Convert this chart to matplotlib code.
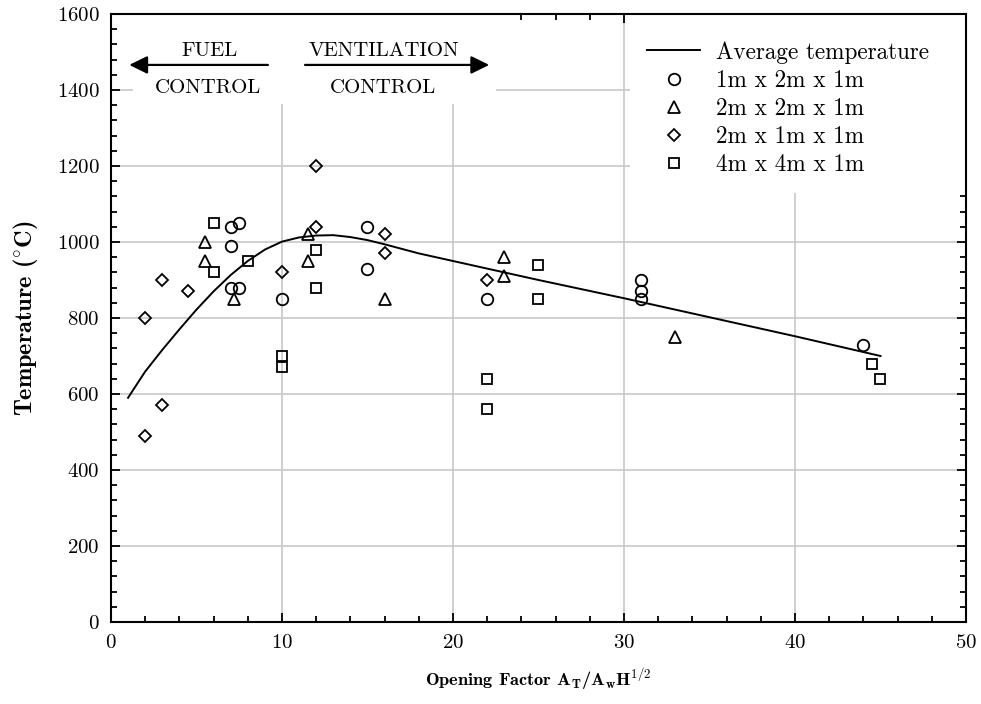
import matplotlib
matplotlib.use("Agg")
import matplotlib.pyplot as plt
from matplotlib.patches import Rectangle
from matplotlib.ticker import MultipleLocator

plt.rcParams["font.family"] = "cmr10"
plt.rcParams["mathtext.fontset"] = "cm"
plt.rcParams["axes.formatter.use_mathtext"] = True

# Average temperature curve
avg_x = [1, 2, 3, 4, 5, 6, 7, 8, 9, 10, 11, 12, 13, 14, 15, 16, 17, 18, 20,
         25, 30, 35, 40, 45]
avg_y = [590, 659, 716, 770, 822, 870, 913, 950, 980, 1001, 1012, 1017, 1018,
         1013, 1005, 994, 982, 970, 950, 900, 852, 802, 752, 700]

# Compartment 1m x 2m x 1m
c1_x = [7, 7.5, 7, 7, 7.5, 10, 15, 15, 22, 31, 31, 31, 44]
c1_y = [1040, 1050, 990, 880, 880, 850, 1040, 930, 850, 900, 870, 850, 730]

# Compartment 2m x 2m x 1m
c2_x = [5.5, 5.5, 7.2, 11.5, 11.5, 16, 23, 23, 33]
c2_y = [1000, 950, 850, 1020, 950, 850, 960, 910, 750]

# Compartment 2m x 1m x 1m
c3_x = [2, 3, 4.5, 3, 2, 10, 12, 12, 16, 16, 22]
c3_y = [800, 900, 870, 570, 490, 920, 1040, 1200, 1020, 970, 900]

# Compartment 4m x 4m x 1m
c4_x = [6, 6, 8, 10, 10, 12, 12, 25, 25, 22, 22, 44.5, 45]
c4_y = [1050, 920, 950, 700, 670, 980, 880, 940, 850, 640, 560, 680, 640]

labels = ["Average temperature", "1m x 2m x 1m", "2m x 2m x 1m",
          "2m x 1m x 1m", "4m x 4m x 1m"]

fig = plt.figure(figsize=(9.81, 7.04), dpi=100)
ax = fig.add_axes([0.1131, 0.1165, 0.8716, 0.8636])

ax.set_xlim(0, 50)
ax.set_ylim(0, 1600)
ax.xaxis.set_major_locator(MultipleLocator(10))
ax.xaxis.set_minor_locator(MultipleLocator(2))
ax.yaxis.set_major_locator(MultipleLocator(200))
ax.yaxis.set_minor_locator(MultipleLocator(40))

ax.set_axisbelow(True)
ax.grid(True, which="major", color="#c8c8c8", linewidth=1.2)

for s in ax.spines.values():
    s.set_linewidth(1.5)
ax.tick_params(which="both", direction="in", top=True, right=True, width=1.3,
               labelsize=15)
ax.tick_params(which="major", length=6.5)
ax.tick_params(which="minor", length=4)
ax.tick_params(axis="x", pad=9)
ax.tick_params(axis="y", pad=8)

# white panels behind the annotation and the key
ax.add_patch(Rectangle((1.29, 1363), 21.2, 237, facecolor="white",
                       edgecolor="none", zorder=1))
ax.add_patch(Rectangle((30.35, 1129), 19.65, 471, facecolor="white",
                       edgecolor="none", zorder=1))

mk = dict(linestyle="none", markerfacecolor="none", markeredgecolor="black",
          markeredgewidth=1.3, zorder=3)
line, = ax.plot(avg_x, avg_y, color="black", linewidth=1.4, zorder=2)
h1, = ax.plot(c1_x, c1_y, marker="o", markersize=8.3, **mk)
h2, = ax.plot(c2_x, c2_y, marker="^", markersize=9.0, **mk)
h3, = ax.plot(c3_x, c3_y, marker="D", markersize=6.2, **mk)
h4, = ax.plot(c4_x, c4_y, marker="s", markersize=7.2, **mk)

leg = ax.legend([line, h1, h2, h3, h4], labels, loc="upper left",
                bbox_to_anchor=(0.627, 0.9556), frameon=False, fontsize=16.7,
                handlelength=2.28, handletextpad=0.69, labelspacing=0.26,
                borderpad=0, borderaxespad=0, numpoints=1)

# regime annotation
arrow = dict(arrowstyle="-|>,head_length=0.55,head_width=0.27", color="black",
             lw=1.6, shrinkA=0, shrinkB=0, mutation_scale=20)
ax.annotate("", xy=(1.07, 1466), xytext=(9.18, 1466), arrowprops=arrow, zorder=4)
ax.annotate("", xy=(22.12, 1466), xytext=(11.35, 1466), arrowprops=arrow, zorder=4)
ax.text(5.74, 1490, "FUEL", ha="center", va="baseline", fontsize=15, zorder=4)
ax.text(5.67, 1391, "CONTROL", ha="center", va="baseline", fontsize=15, zorder=4)
ax.text(15.96, 1490, "VENTILATION", ha="center", va="baseline", fontsize=15, zorder=4)
ax.text(15.9, 1391, "CONTROL", ha="center", va="baseline", fontsize=15, zorder=4)

ax.set_ylabel(r"Temperature ($^{\circ}$C)", family="cmb10", fontsize=17.5,
              labelpad=12)
ax.set_xlabel(r"Opening Factor A$_\mathbf{T}$/A$_\mathbf{w}$H$^\mathbf{1/2}$",
              family="cmb10", fontsize=13.2, labelpad=10)

fig.savefig("out.png", dpi=100)
